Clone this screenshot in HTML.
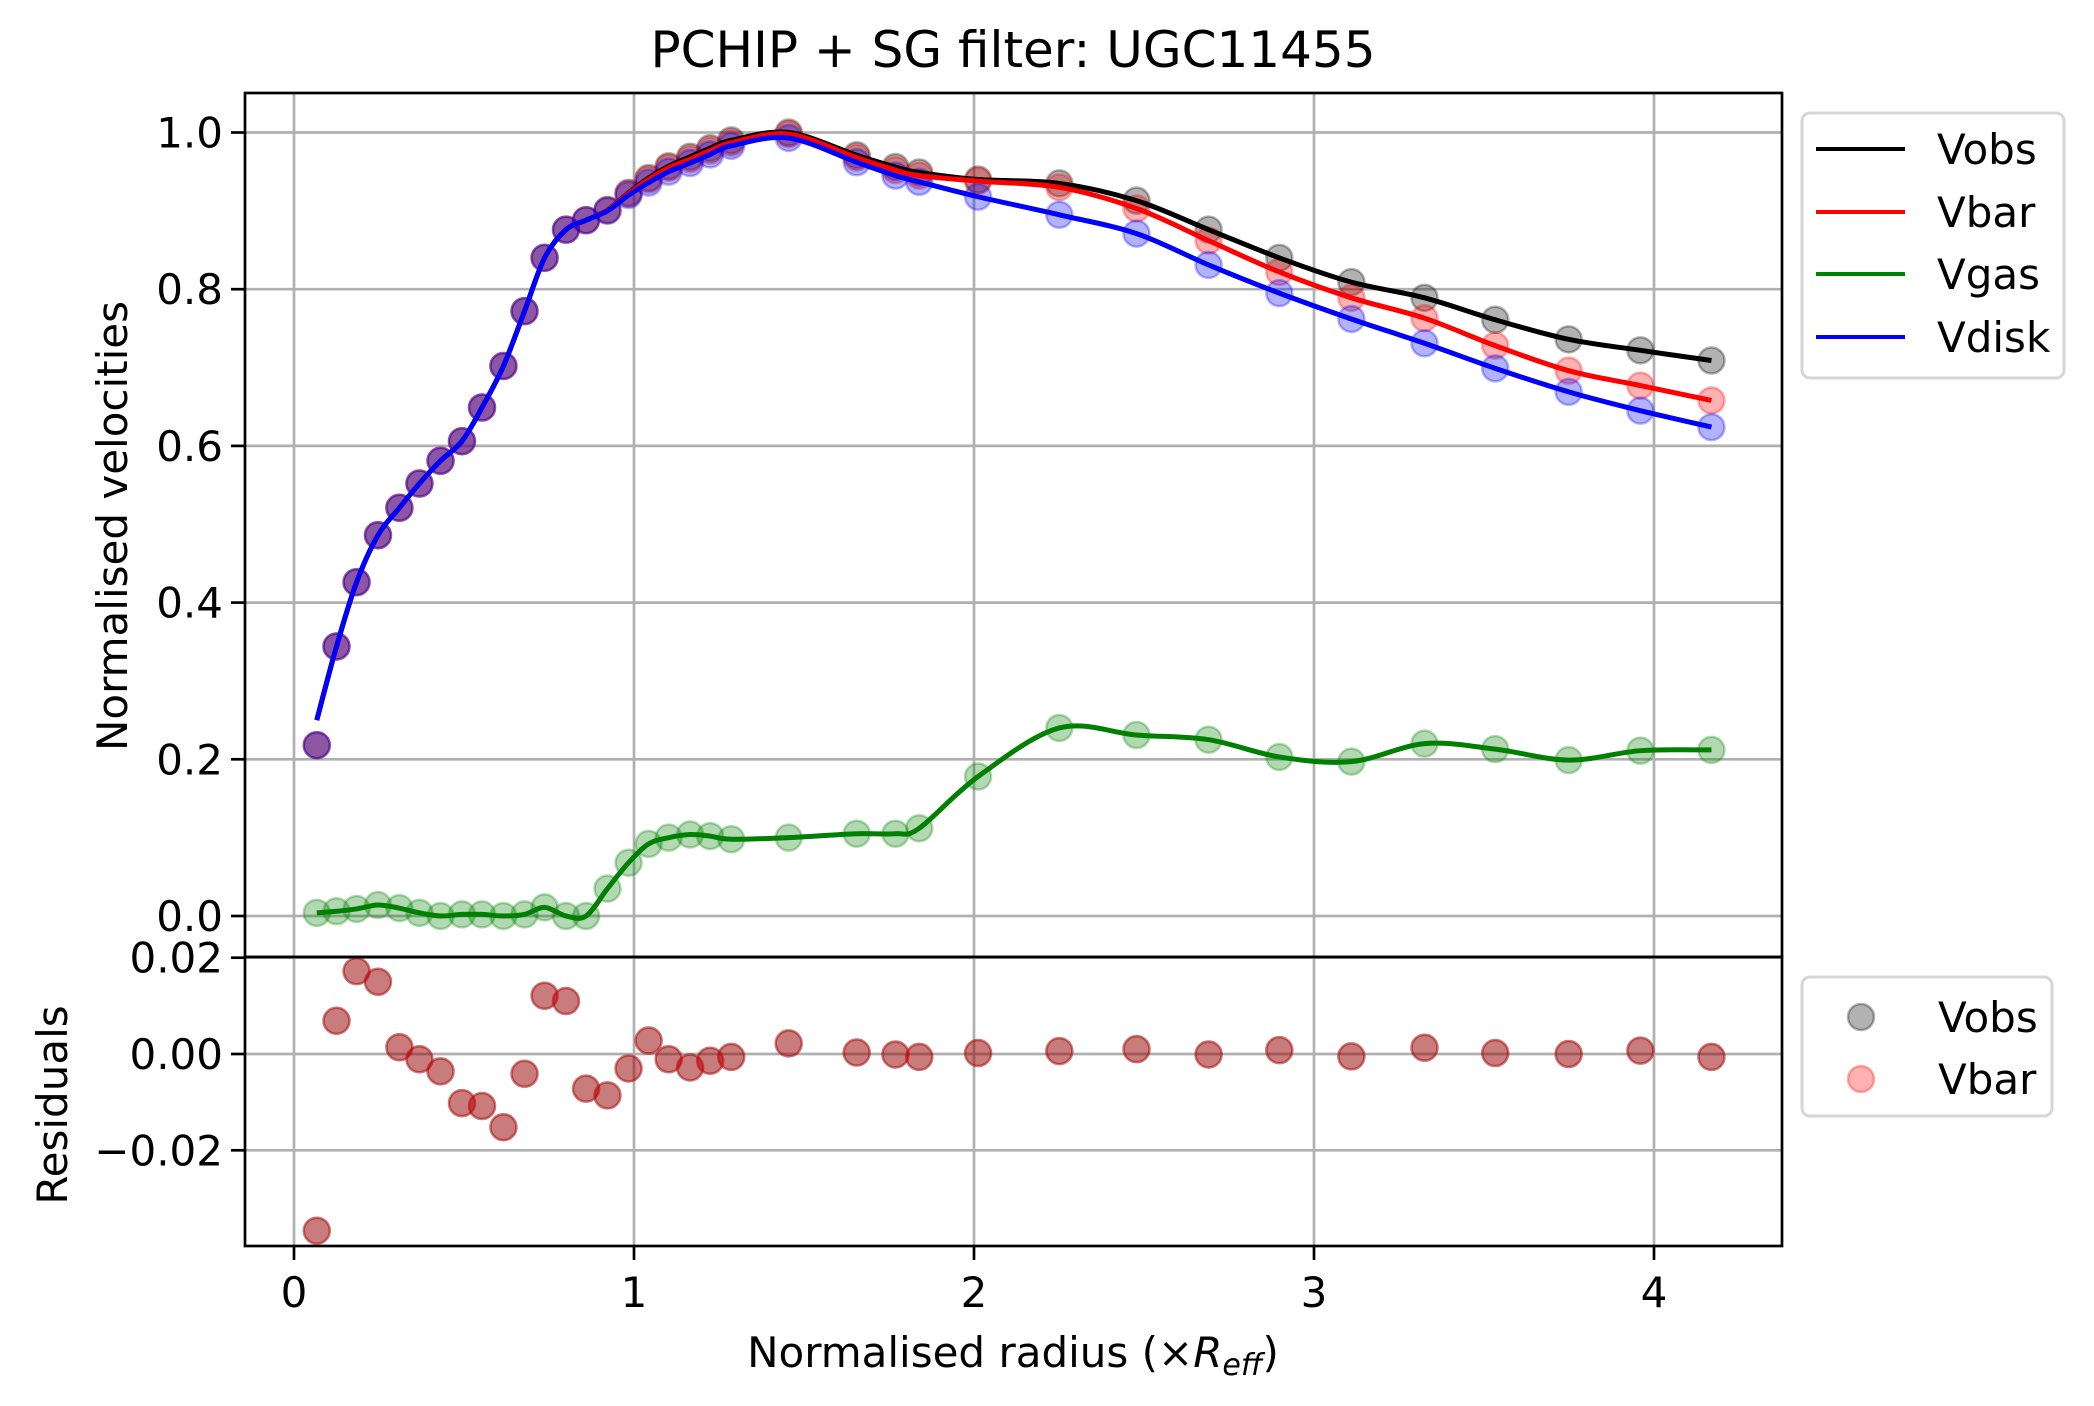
<!DOCTYPE html>
<html><head><meta charset="utf-8"><style>
html,body{margin:0;padding:0;background:#fff}
svg{display:block;font-family:"DejaVu Sans","Liberation Sans",sans-serif}
</style></head><body>
<svg id="chart" width="2094" height="1406" viewBox="0 0 2094 1406" xmlns="http://www.w3.org/2000/svg">
<rect width="2094" height="1406" fill="#fff"/>
<text x="1013" y="67" font-size="50" text-anchor="middle">PCHIP + SG filter: UGC11455</text>
<g id="main"></g>
<g id="resid"></g>
<text transform="translate(127,526) rotate(-90)" font-size="42" text-anchor="middle">Normalised velocities</text>
<text transform="translate(67,1105) rotate(-90)" font-size="42" text-anchor="middle">Residuals</text>
<text x="1013" y="1367" font-size="42" text-anchor="middle">Normalised radius (×<tspan font-style="italic">R</tspan><tspan font-style="italic" font-size="30" dy="8">eff</tspan><tspan dy="-8">)</tspan></text>
<g>
<rect x="1802" y="113" width="262" height="265" rx="8" fill="#fff" stroke="#d6d6d6" stroke-width="3"/>
<line x1="1816" y1="149" x2="1905" y2="149" stroke="#000" stroke-width="4"/><text x="1937" y="164" font-size="42">Vobs</text>
<line x1="1816" y1="212" x2="1905" y2="212" stroke="#f00" stroke-width="4"/><text x="1937" y="227" font-size="42">Vbar</text>
<line x1="1816" y1="274" x2="1905" y2="274" stroke="#008000" stroke-width="4"/><text x="1937" y="289" font-size="42">Vgas</text>
<line x1="1816" y1="337" x2="1905" y2="337" stroke="#00f" stroke-width="4"/><text x="1937" y="352" font-size="42">Vdisk</text>
</g>
<g>
<rect x="1802" y="977" width="250" height="139" rx="8" fill="#fff" stroke="#d6d6d6" stroke-width="3"/>
<circle cx="1861" cy="1017" r="13" fill="rgba(0,0,0,0.3)" stroke="rgba(0,0,0,0.3)" stroke-width="2.5"/><text x="1938" y="1032" font-size="42">Vobs</text>
<circle cx="1861" cy="1079" r="13" fill="rgba(255,0,0,0.3)" stroke="rgba(255,0,0,0.3)" stroke-width="2.5"/><text x="1938" y="1094" font-size="42">Vbar</text>
</g>
</svg>
<script>
const radius=[0.067,0.125,0.184,0.247,0.31,0.369,0.431,0.494,0.553,0.616,0.678,0.737,0.8,0.859,0.922,0.984,1.043,1.102,1.165,1.224,1.286,1.455,1.655,1.769,1.839,2.012,2.251,2.478,2.69,2.898,3.11,3.325,3.533,3.749,3.96,4.169];
const vobs=[0.218,0.344,0.426,0.486,0.521,0.552,0.581,0.606,0.649,0.702,0.772,0.84,0.876,0.888,0.901,0.923,0.942,0.957,0.969,0.98,0.99,1.0,0.971,0.956,0.949,0.94,0.935,0.913,0.876,0.84,0.809,0.789,0.761,0.736,0.722,0.709];
const vbar=[0.218,0.344,0.426,0.486,0.521,0.552,0.581,0.606,0.649,0.702,0.772,0.84,0.876,0.888,0.901,0.922,0.94,0.955,0.966,0.977,0.987,0.998,0.968,0.952,0.945,0.938,0.930,0.903,0.862,0.822,0.789,0.763,0.728,0.696,0.677,0.658];
const vdisk=[0.218,0.344,0.426,0.486,0.521,0.552,0.581,0.606,0.649,0.702,0.772,0.84,0.876,0.888,0.9,0.92,0.936,0.95,0.961,0.972,0.983,0.993,0.962,0.945,0.937,0.918,0.895,0.871,0.831,0.795,0.762,0.731,0.699,0.669,0.645,0.624];
const vgas=[0.004,0.006,0.009,0.014,0.01,0.004,0.0,0.002,0.002,0.0,0.002,0.011,0.0,0.0,0.035,0.068,0.092,0.1,0.104,0.102,0.098,0.1,0.105,0.105,0.112,0.178,0.24,0.231,0.225,0.203,0.197,0.22,0.213,0.199,0.211,0.212];
const residuals=[-0.0367,0.0069,0.0172,0.015,0.0014,-0.0011,-0.0036,-0.0102,-0.0108,-0.0152,-0.0041,0.0121,0.011,-0.0072,-0.0086,-0.003,0.0028,-0.0011,-0.0028,-0.0014,-0.0006,0.0022,0.0003,-0.0001,-0.0006,0.0002,0.0006,0.001,-0.0001,0.0008,-0.0005,0.0013,0.0002,0.0,0.0007,-0.0006];
const lineStart={vobs:0.25,vbar:0.25,vdisk:0.25,vgas:0.004};
const xTicks=[0,1,2,3,4];
const yTicks=[0,0.2,0.4,0.6,0.8,1.0];
const yTickLabels=["0.0","0.2","0.4","0.6","0.8","1.0"];
const rTicks=[-0.02,0,0.02];
const rTickLabels=["\u22120.02","0.00","0.02"];

const NS="http://www.w3.org/2000/svg";
const L=245,R=1782,T=93,MB=957,RB=1246;
const X=v=>294+v*340;
const Y=v=>916-v*783.5;
const RY=v=>1054-v*4815;
function mk(tag,attrs,parent){const e=document.createElementNS(NS,tag);for(const k in attrs)e.setAttribute(k,attrs[k]);parent.appendChild(e);return e;}
const main=document.getElementById('main'),resid=document.getElementById('resid');

function grid(g,top,bot,yt,yl,yf){
  xTicks.forEach(t=>{const l=mk('line',{x1:X(t),x2:X(t),y1:top,y2:bot,stroke:'#b0b0b0','stroke-width':2.7},g);
    
    });
  yt.forEach((t,i)=>{const l=mk('line',{x1:L,x2:R,y1:yf(t),y2:yf(t),stroke:'#b0b0b0','stroke-width':2.7},g);
    
    
    mk('line',{x1:L-14,x2:L,y1:yf(t),y2:yf(t),stroke:'#000','stroke-width':2.7},g);
    const tx=mk('text',{x:L-22,y:yf(t)+15,'font-size':42,'text-anchor':'end'},g);tx.textContent=yl[i];
    
    });
}
grid(main,T,MB,yTicks,yTickLabels,Y);
grid(resid,MB,RB,rTicks,rTickLabels,RY);
xTicks.forEach(t=>{mk('line',{x1:X(t),x2:X(t),y1:RB,y2:RB+14,stroke:'#000','stroke-width':2.7},resid);
  const tx=mk('text',{x:X(t),y:1307,'font-size':42,'text-anchor':'middle'},resid);tx.textContent=String(t);
  
  });

function dots(g,vals,yf,color,name){vals.forEach((v,i)=>{const c=mk('circle',{cx:X(radius[i]),cy:yf(v),r:13,fill:color,stroke:color,'stroke-width':2.5},g);
  
  });}
function curve(g,vals,start,color,name){
  const pts=vals.map((v,i)=>[X(radius[i]),Y(i===0?start:v)]);
  let d='M'+pts[0][0]+','+pts[0][1];
  for(let i=0;i<pts.length-1;i++){const p0=pts[Math.max(0,i-1)],p1=pts[i],p2=pts[i+1],p3=pts[Math.min(pts.length-1,i+2)];
    d+=' C'+(p1[0]+(p2[0]-p0[0])/6)+','+(p1[1]+(p2[1]-p0[1])/6)+' '+(p2[0]-(p3[0]-p1[0])/6)+','+(p2[1]-(p3[1]-p1[1])/6)+' '+p2[0]+','+p2[1];}
  const p=mk('path',{d:d,fill:'none',stroke:color,'stroke-width':5},g);
  
  
}
dots(main,vobs,Y,'rgba(0,0,0,0.3)','vobs-point');
dots(main,vbar,Y,'rgba(255,0,0,0.3)','vbar-point');
dots(main,vgas,Y,'rgba(0,128,0,0.3)','vgas-point');
dots(main,vdisk,Y,'rgba(0,0,255,0.3)','vdisk-point');
curve(main,vobs,lineStart.vobs,'#000','vobs-line');
curve(main,vbar,lineStart.vbar,'#f00','vbar-line');
curve(main,vgas,lineStart.vgas,'#008000','vgas-line');
curve(main,vdisk,lineStart.vdisk,'#00f','vdisk-line');
dots(resid,residuals,RY,'rgba(0,0,0,0.3)','residual-vobs-point');
dots(resid,residuals,RY,'rgba(255,0,0,0.3)','residual-vbar-point');
const f1=mk('rect',{x:L,y:T,width:R-L,height:MB-T,fill:'none',stroke:'#000','stroke-width':2.7},main);


const f2=mk('rect',{x:L,y:MB,width:R-L,height:RB-MB,fill:'none',stroke:'#000','stroke-width':2.7},resid);


</script>
</body></html>
